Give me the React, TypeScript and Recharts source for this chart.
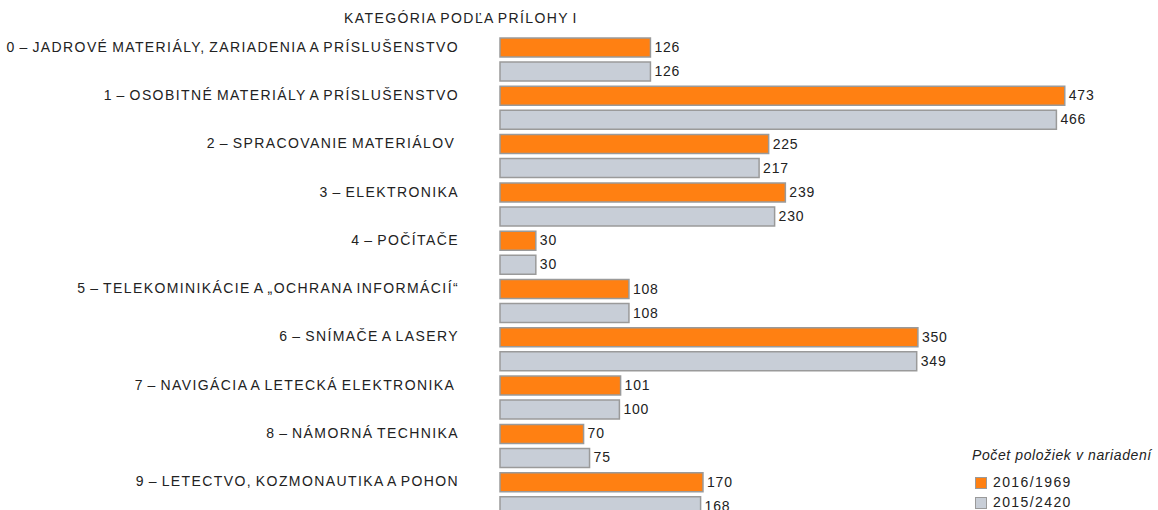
import React from "react";
import { Bar, BarChart, LabelList, XAxis, YAxis } from "recharts";

const categories = [
  "0 – JADROVÉ MATERIÁLY, ZARIADENIA A PRÍSLUŠENSTVO",
  "1 – OSOBITNÉ MATERIÁLY A PRÍSLUŠENSTVO",
  "2 – SPRACOVANIE MATERIÁLOV\u00a0",
  "3 – ELEKTRONIKA",
  "4 – POČÍTAČE",
  "5 – TELEKOMINIKÁCIE A „OCHRANA INFORMÁCIÍ“",
  "6 – SNÍMAČE A LASERY",
  "7 – NAVIGÁCIA A LETECKÁ ELEKTRONIKA\u00a0",
  "8 – NÁMORNÁ TECHNIKA",
  "9 – LETECTVO, KOZMONAUTIKA A POHON",
];
const values2016 = [126, 473, 225, 239, 30, 108, 350, 101, 70, 170];
const values2015 = [126, 466, 217, 230, 30, 108, 349, 100, 75, 168];
const seriesNames = ["2016/1969", "2015/2420"];

const ORANGE = "#ff8012";
const GREY = "#c8ced7";
const EDGE = "#9a9a9a";
const FONT = "'Liberation Sans', Arial, sans-serif";

const data = categories.map((c, i) => ({ cat: c, a: values2016[i], b: values2015[i] }));

function CatTick(props: any) {
  const { x, y, payload } = props;
  return (
    <text
      x={x}
      y={y - 7.5}
      textAnchor="end"
      fontFamily={FONT}
      fontSize={14}
      letterSpacing={1.4}
      wordSpacing={-1.5}
      fill="#222"
    >
      {payload.value}
    </text>
  );
}

function ValueLabel(props: any) {
  const { x, y, width, height, value } = props;
  return (
    <text x={x + width + 4} y={y + height / 2} dy={4.5} fontFamily={FONT} fontSize={14} letterSpacing={0.8} fill="#222">
      {value}
    </text>
  );
}

function LegendBox() {
  const sw = { position: "absolute" as const, left: 3, width: 10, height: 10, border: `1px solid ${EDGE}` };
  const txt = { position: "absolute" as const, left: 21, letterSpacing: 1.4, whiteSpace: "nowrap" as const };
  return (
    <div style={{ position: "absolute", left: 972, top: 444, width: 186, height: 66, fontFamily: FONT, fontSize: 14, color: "#222", lineHeight: "16px" }}>
      <div style={{ position: "absolute", left: 0, top: 3, fontStyle: "italic", letterSpacing: 0.6, whiteSpace: "nowrap" }}>
        Počet položiek v nariadení
      </div>
      <span style={{ ...sw, top: 33, background: ORANGE }} />
      <div style={{ ...txt, top: 30 }}>{seriesNames[0]}</div>
      <span style={{ ...sw, top: 53, background: GREY }} />
      <div style={{ ...txt, top: 50 }}>{seriesNames[1]}</div>
    </div>
  );
}

export default function App() {
  return (
    <div style={{ position: "absolute", left: 0, top: 0, width: 1158, height: 510, overflow: "hidden", background: "#fff" }}>
      <div
        style={{
          position: "absolute",
          left: 300,
          top: 10,
          width: 322,
          textAlign: "center",
          fontFamily: FONT,
          fontSize: 14,
          lineHeight: "16px",
          letterSpacing: 1.4,
          wordSpacing: -1.5,
          color: "#222",
          whiteSpace: "nowrap",
        }}
      >
        KATEGÓRIA PODĽA PRÍLOHY I
      </div>
      <BarChart
        width={1158}
        height={518}
        data={data}
        layout="vertical"
        margin={{ top: 35, right: 61, bottom: 0, left: 0 }}
        barSize={19}
        barGap={5}
      >
        <XAxis type="number" domain={[0, 500]} hide />
        <YAxis
          type="category"
          dataKey="cat"
          width={500}
          axisLine={false}
          tickLine={false}
          tick={<CatTick />}
          tickMargin={35}
          interval={0}
        />
        <Bar dataKey="a" name={seriesNames[0]} fill={ORANGE} stroke={EDGE} strokeWidth={1.5} isAnimationActive={false}>
          <LabelList dataKey="a" content={<ValueLabel />} />
        </Bar>
        <Bar dataKey="b" name={seriesNames[1]} fill={GREY} stroke={EDGE} strokeWidth={1.5} isAnimationActive={false}>
          <LabelList dataKey="b" content={<ValueLabel />} />
        </Bar>
      </BarChart>
      <LegendBox />
    </div>
  );
}
